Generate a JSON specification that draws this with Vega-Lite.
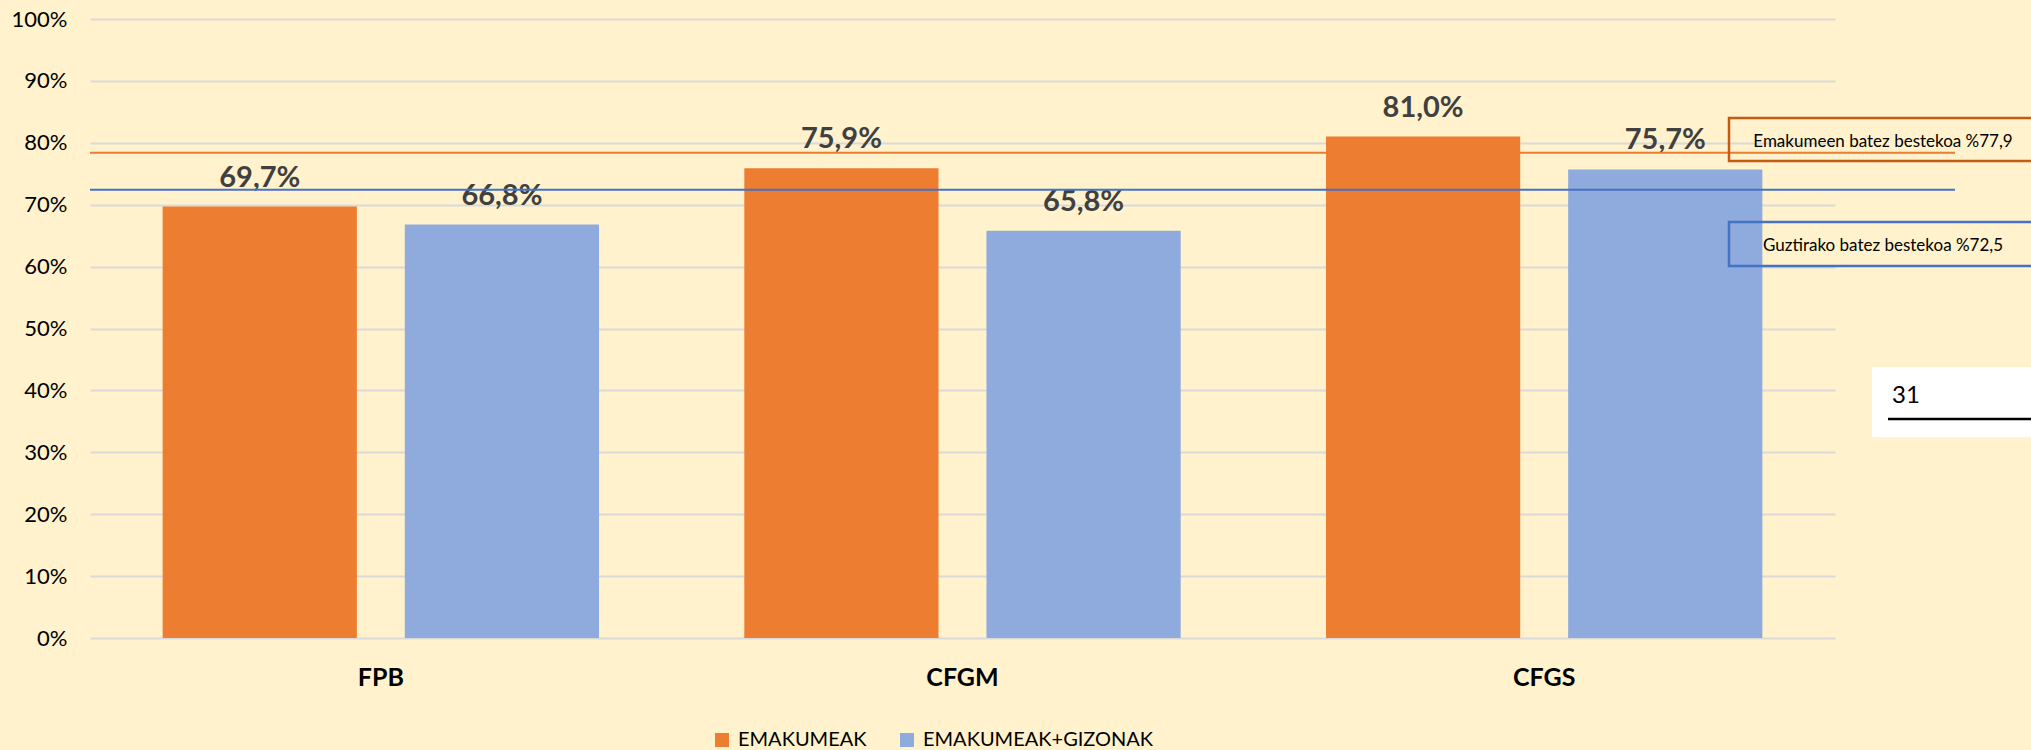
{
  "$schema": "https://vega.github.io/schema/vega-lite/v6.json",
  "width": 1745,
  "height": 619,
  "autosize": {"type": "none"},
  "padding": {"left": 90, "top": 19, "right": 196, "bottom": 112},
  "background": "#FFF2CC",
  "config": {
    "view": {"stroke": null},
    "font": "Lato",
    "locale": {"number": {"decimal": ",", "thousands": ".", "grouping": [3], "currency": ["", " €"]}}
  },
  "layer": [
    {
      "data": {"values": [
        {"cat": "FPB", "series": "EMAKUMEAK", "value": 0.697},
        {"cat": "FPB", "series": "EMAKUMEAK+GIZONAK", "value": 0.668},
        {"cat": "CFGM", "series": "EMAKUMEAK", "value": 0.759},
        {"cat": "CFGM", "series": "EMAKUMEAK+GIZONAK", "value": 0.658},
        {"cat": "CFGS", "series": "EMAKUMEAK", "value": 0.810},
        {"cat": "CFGS", "series": "EMAKUMEAK+GIZONAK", "value": 0.757}
      ]},
      "encoding": {
        "x": {
          "field": "cat", "type": "nominal", "sort": ["FPB", "CFGM", "CFGS"],
          "scale": {"paddingInner": 0, "paddingOuter": 0},
          "axis": {"title": null, "labelAngle": 0, "labelFontSize": 25, "labelFontWeight": "bold", "labelColor": "#000000", "ticks": false, "domain": false, "labelPadding": 27, "grid": false}
        },
        "xOffset": {
          "field": "series", "type": "nominal", "sort": ["EMAKUMEAK", "EMAKUMEAK+GIZONAK"],
          "scale": {"paddingInner": 0.198, "paddingOuter": 0.3}
        },
        "y": {
          "field": "value", "type": "quantitative",
          "scale": {"domain": [0, 1]},
          "axis": {"title": null, "format": ".0%", "values": [0, 0.1, 0.2, 0.3, 0.4, 0.5, 0.6, 0.7, 0.8, 0.9, 1], "grid": true, "gridColor": "#D9D9D9", "gridWidth": 2, "domain": false, "ticks": false, "labelFontSize": 22, "labelColor": "#000000", "labelPadding": 23}
        }
      },
      "layer": [
        {
          "mark": {"type": "bar"},
          "encoding": {
            "color": {
              "field": "series", "type": "nominal",
              "scale": {"domain": ["EMAKUMEAK", "EMAKUMEAK+GIZONAK"], "range": ["#ED7D31", "#8FAADC"]},
              "legend": {"orient": "none", "legendX": 622, "legendY": 711, "direction": "horizontal", "title": null, "symbolType": "square", "symbolSize": 196, "labelFontSize": 20, "labelColor": "#000000", "labelLimit": 0, "columnPadding": 30, "symbolStrokeWidth": 0, "labelOffset": 6}
            }
          }
        },
        {
          "mark": {"type": "text", "baseline": "alphabetic", "dy": -20, "fontSize": 29, "fontWeight": "bold", "color": "#404040"},
          "encoding": {"text": {"field": "value", "type": "quantitative", "format": ".1%"}}
        }
      ]
    },
    {
      "data": {"values": [{"avg": 0.784}]},
      "mark": {"type": "rule", "color": "#ED7D31", "strokeWidth": 2, "x": 0, "x2": {"expr": "width + 120"}},
      "encoding": {"y": {"field": "avg", "type": "quantitative"}}
    },
    {
      "data": {"values": [{"avg": 0.724}]},
      "mark": {"type": "rule", "color": "#4472C4", "strokeWidth": 2, "x": 0, "x2": {"expr": "width + 120"}},
      "encoding": {"y": {"field": "avg", "type": "quantitative"}}
    },
    {
      "data": {"values": [{"label": "Emakumeen batez bestekoa %77,9"}]},
      "layer": [
        {
          "mark": {"type": "rect", "fill": "transparent", "stroke": "#C55A11", "strokeWidth": 2.5, "x": {"expr": "width - 106"}, "x2": {"expr": "width + 230"}},
          "encoding": {"y": {"datum": 0.84}, "y2": {"datum": 0.7706}}
        },
        {
          "mark": {"type": "text", "align": "center", "baseline": "middle", "fontSize": 17, "color": "#000000", "x": {"expr": "width + 48"}},
          "encoding": {"y": {"datum": 0.8013}, "text": {"field": "label"}}
        }
      ]
    },
    {
      "data": {"values": [{"label": "Guztirako batez bestekoa %72,5"}]},
      "layer": [
        {
          "mark": {"type": "rect", "fill": "transparent", "stroke": "#4472C4", "strokeWidth": 2.5, "x": {"expr": "width - 106"}, "x2": {"expr": "width + 230"}},
          "encoding": {"y": {"datum": 0.672}, "y2": {"datum": 0.601}}
        },
        {
          "mark": {"type": "text", "align": "center", "baseline": "middle", "fontSize": 17, "color": "#000000", "x": {"expr": "width + 48"}},
          "encoding": {"y": {"datum": 0.6333}, "text": {"field": "label"}}
        }
      ]
    },
    {
      "data": {"values": [{"label": "31"}]},
      "layer": [
        {
          "mark": {"type": "rect", "fill": "#FFFFFF", "x": {"expr": "width + 37"}, "x2": {"expr": "width + 230"}},
          "encoding": {"y": {"datum": 0.4378}, "y2": {"datum": 0.3247}}
        },
        {
          "mark": {"type": "text", "align": "left", "baseline": "middle", "fontSize": 24, "color": "#000000", "x": {"expr": "width + 57"}},
          "encoding": {"y": {"datum": 0.391}, "text": {"field": "label"}}
        },
        {
          "mark": {"type": "rule", "color": "#000000", "strokeWidth": 2.5, "x": {"expr": "width + 53"}, "x2": {"expr": "width + 230"}},
          "encoding": {"y": {"datum": 0.3538}}
        }
      ]
    }
  ]
}
